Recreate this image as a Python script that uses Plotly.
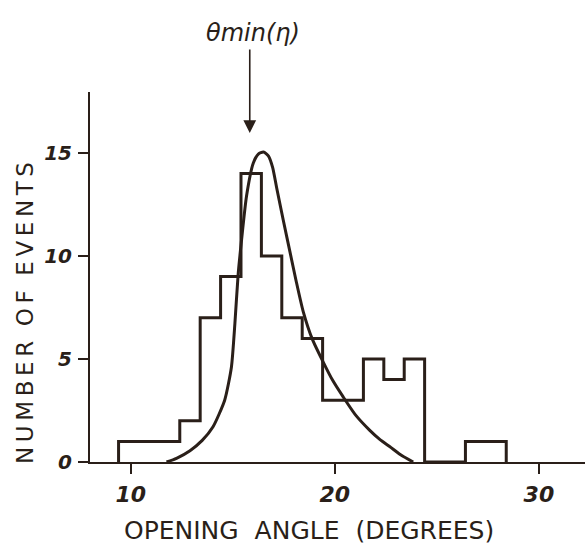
import plotly.graph_objects as go

# Histogram of opening angles: 1-degree bins, left edges and event counts
bin_left = [9.4, 10.4, 11.4, 12.4, 13.4, 14.4, 15.4, 16.4, 17.4, 18.4,
            19.4, 20.4, 21.4, 22.4, 23.4, 24.4, 25.4, 26.4, 27.4]
counts = [1, 1, 1, 2, 7, 9, 14, 10, 7, 6,
          3, 3, 5, 4, 5, 0, 0, 1, 1]
bin_width = 1.0

# Expected distribution (smooth curve)
curve_angle = [11.75, 12.24, 12.9, 13.5, 14.03, 14.6, 14.93, 15.1, 15.26,
               15.43, 15.67, 16.0, 16.25, 16.5, 16.75, 16.95, 17.15, 17.47,
               17.8, 18.1, 18.45, 18.9, 19.43, 19.9, 20.4, 21.0, 21.7,
               22.2, 22.7, 23.3, 23.84]
curve_count = [0.0, 0.18, 0.55, 1.05, 1.71, 3.0, 4.6, 6.7, 9.1,
               10.8, 12.9, 14.5, 14.95, 15.05, 14.85, 14.3, 13.3, 11.75,
               10.2, 8.8, 7.3, 5.95, 4.85, 3.95, 3.17, 2.3, 1.55,
               1.1, 0.74, 0.3, 0.0]

x_ticks = [10, 20, 30]
y_ticks = [0, 5, 10, 15]

# Minimum opening angle marker
theta_min = 15.83
marker_label = "θmin(η)"

INK = "#2a1f19"
FONT = "DejaVu Sans"


def spaced(text, gap="\u2009", word_gap="\u00a0\u00a0"):
    # widen letter and word spacing for lettered titles
    words = text.split(" ")
    return word_gap.join(gap.join(w) for w in words)


# Step outline of the histogram
step_x = [bin_left[0]] + bin_left + [bin_left[-1] + bin_width]
step_y = [0] + counts + [0]

fig = go.Figure()
fig.add_trace(go.Scatter(
    x=step_x, y=step_y, mode="lines", line_shape="hv",
    line=dict(color=INK, width=3), hoverinfo="skip", showlegend=False,
))
fig.add_trace(go.Scatter(
    x=curve_angle, y=curve_count, mode="lines", line_shape="spline",
    line=dict(color=INK, width=3, smoothing=0.6), hoverinfo="skip",
    showlegend=False,
))

fig.update_layout(
    width=585, height=548, autosize=False,
    margin=dict(l=90, r=0, t=92, b=86),
    paper_bgcolor="white", plot_bgcolor="white",
    font=dict(family=FONT, color=INK),
    xaxis=dict(
        range=[8.0, 32.26], tickvals=x_ticks, ticks="outside", ticklen=10,
        tickwidth=2, tickcolor=INK, showline=True, linewidth=2, linecolor=INK,
        showgrid=False, zeroline=False, ticklabelstandoff=2,
        tickfont=dict(size=22, style="italic", weight="bold", family=FONT, color=INK),
    ),
    yaxis=dict(
        range=[0, 17.96], tickvals=y_ticks, ticks="outside", ticklen=10,
        tickwidth=2, tickcolor=INK, showline=True, linewidth=2, linecolor=INK,
        showgrid=False, zeroline=False, ticklabelstandoff=2,
        tickfont=dict(size=20, style="italic", weight="bold", family=FONT, color=INK),
    ),
    annotations=[
        dict(x=theta_min, y=15.97, xref="x", yref="y",
             ax=theta_min, ay=20.1, axref="x", ayref="y",
             showarrow=True, arrowhead=2, arrowsize=1.6, arrowwidth=1.6,
             arrowcolor=INK, text=""),
        dict(x=(253 - 90) / 495, y=(462 - 33) / 370, xref="paper", yref="paper",
             xanchor="center", yanchor="middle", showarrow=False,
             text="<i>" + marker_label + "</i>",
             font=dict(size=24, family=FONT, color=INK)),
        dict(x=(25 - 90) / 495, y=(462 - 313) / 370, xref="paper", yref="paper",
             xanchor="center", yanchor="middle", showarrow=False,
             textangle=-90, text=spaced("NUMBER OF EVENTS"),
             font=dict(size=23, family=FONT, color=INK)),
        dict(x=(309 - 90) / 495, y=(462 - 530) / 370, xref="paper", yref="paper",
             xanchor="center", yanchor="middle", showarrow=False,
             text=spaced("OPENING ANGLE (DEGREES)", gap="",
                         word_gap="\u00a0\u00a0"),
             font=dict(size=25, family=FONT, color=INK)),
    ],
)

fig.write_html("out.html")
